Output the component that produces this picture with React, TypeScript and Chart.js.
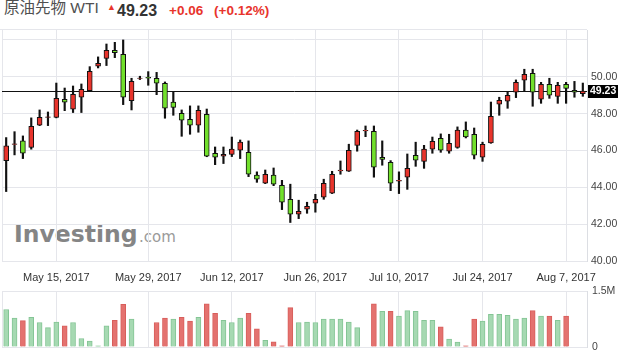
import React, { useEffect, useRef } from "react";
import { Chart, registerables } from "chart.js";

Chart.register(...registerables);

const FONT = '"Liberation Sans", Arial, Helvetica, sans-serif';

const DATES = [
  "May 5, 2017", "May 8, 2017", "May 9, 2017", "May 10, 2017", "May 11, 2017", "May 12, 2017",
  "May 15, 2017", "May 16, 2017", "May 17, 2017", "May 18, 2017", "May 19, 2017",
  "May 22, 2017", "May 23, 2017", "May 24, 2017", "May 25, 2017", "May 26, 2017", "May 28, 2017",
  "May 29, 2017", "May 30, 2017", "May 31, 2017", "Jun 1, 2017", "Jun 2, 2017",
  "Jun 5, 2017", "Jun 6, 2017", "Jun 7, 2017", "Jun 8, 2017", "Jun 9, 2017",
  "Jun 12, 2017", "Jun 13, 2017", "Jun 14, 2017", "Jun 15, 2017", "Jun 16, 2017",
  "Jun 19, 2017", "Jun 20, 2017", "Jun 21, 2017", "Jun 22, 2017", "Jun 23, 2017",
  "Jun 26, 2017", "Jun 27, 2017", "Jun 28, 2017", "Jun 29, 2017", "Jun 30, 2017",
  "Jul 3, 2017", "Jul 4, 2017", "Jul 5, 2017", "Jul 6, 2017", "Jul 7, 2017",
  "Jul 10, 2017", "Jul 11, 2017", "Jul 12, 2017", "Jul 13, 2017", "Jul 14, 2017",
  "Jul 17, 2017", "Jul 18, 2017", "Jul 19, 2017", "Jul 20, 2017", "Jul 21, 2017",
  "Jul 24, 2017", "Jul 25, 2017", "Jul 26, 2017", "Jul 27, 2017", "Jul 28, 2017",
  "Jul 31, 2017", "Aug 1, 2017", "Aug 2, 2017", "Aug 3, 2017", "Aug 4, 2017",
  "Aug 7, 2017", "Aug 8, 2017", "Aug 9, 2017",
];

const DATE_TICKS = [
  "May 15, 2017", "May 29, 2017", "Jun 12, 2017", "Jun 26, 2017",
  "Jul 10, 2017", "Jul 24, 2017", "Aug 7, 2017",
];

const OPEN = [
  45.45, 46.33, 46.52, 46.16, 47.37, 47.80, 47.80, 48.78, 48.24, 48.89,
  49.25, 50.57, 51.00, 51.44, 51.22, 48.71, 49.91, 49.97, 49.92, 49.65,
  48.63, 48.02, 47.69, 47.37, 47.96, 45.85, 45.69, 45.79, 46.01, 45.90,
  44.66, 44.22, 44.66, 44.11, 43.35, 42.54, 42.81, 43.14, 43.46, 43.68,
  44.89, 44.87, 46.28, 47.06, 47.04, 45.63, 45.36, 44.34, 44.55, 45.74,
  45.41, 46.07, 46.66, 45.96, 46.17, 47.11, 46.88, 45.63, 46.41, 48.51,
  48.67, 49.16, 49.81, 50.19, 48.78, 49.59, 48.94, 49.59, 49.27, 49.08,
];
const HIGH = [
  46.70, 47.02, 46.79, 47.77, 48.20, 48.09, 49.66, 49.39, 49.50, 49.61,
  50.55, 51.08, 51.78, 51.87, 52.00, 49.92, 50.03, 50.28, 50.24, 49.72,
  49.21, 48.20, 48.42, 48.42, 48.25, 46.19, 46.19, 46.73, 46.57, 46.52,
  44.84, 44.94, 45.05, 44.38, 44.17, 43.30, 43.19, 43.62, 44.44, 44.87,
  45.43, 46.34, 47.11, 47.33, 47.33, 46.52, 45.45, 44.84, 45.81, 46.45,
  46.28, 46.73, 46.90, 46.88, 47.28, 47.55, 47.22, 46.45, 48.63, 48.89,
  49.16, 49.83, 50.41, 50.41, 49.70, 49.92, 49.70, 49.70, 49.75, 49.66,
];
const LOW = [
  43.77, 45.76, 45.56, 46.07, 47.35, 47.35, 47.77, 48.16, 48.06, 48.06,
  49.21, 50.48, 50.61, 51.04, 48.49, 48.20, 49.85, 49.54, 49.03, 47.75,
  47.91, 46.77, 46.88, 46.99, 45.66, 45.23, 45.29, 45.67, 45.56, 44.58,
  44.27, 44.20, 44.09, 42.79, 42.09, 42.30, 42.59, 42.65, 43.35, 43.66,
  44.71, 44.86, 45.96, 46.75, 44.55, 45.20, 43.82, 43.66, 43.89, 45.14,
  45.03, 45.85, 45.90, 45.85, 46.12, 46.68, 45.54, 45.41, 46.39, 47.91,
  48.29, 48.87, 49.21, 48.40, 48.56, 48.83, 48.56, 48.56, 48.89, 48.94,
];
const CLOSE = [
  46.25, 46.36, 45.85, 47.31, 47.80, 47.83, 48.83, 48.62, 49.05, 49.32,
  50.30, 50.73, 51.44, 51.31, 48.89, 49.75, 49.93, 49.92, 49.65, 48.29,
  48.34, 47.64, 47.37, 48.18, 45.69, 45.63, 45.79, 46.07, 46.45, 44.71,
  44.44, 44.71, 44.17, 43.19, 42.54, 42.70, 42.97, 43.35, 44.22, 44.71,
  44.93, 46.01, 47.04, 47.10, 45.09, 45.52, 44.22, 44.38, 45.03, 45.47,
  46.07, 46.50, 46.01, 46.39, 47.11, 46.73, 45.74, 46.34, 47.86, 48.72,
  49.00, 49.70, 50.13, 49.16, 49.59, 49.00, 49.54, 49.37, 49.16, 49.23,
];

// volume in millions
const VOLUME = [
  1.01, 0.78, 0.71, 0.80, 0.66, 0.52, 0.67, 0.57, 0.66, 0.23,
  0.16, 0.03, 0.57, 0.72, 1.15, 0.75, null, null, 0.66, 0.78,
  0.75, 0.80, 0.70, 0.80, 1.16, 0.91, 0.72, 0.66, 0.78, 0.91,
  0.49, 0.18, 0.14, 0.03, 1.06, 0.66, 0.67, 0.66, 0.75, 0.75,
  0.75, 0.67, 0.52, null, 1.16, 0.96, 0.96, 0.83, 0.98, 0.96,
  0.72, 0.72, 0.54, 0.21, 0.13, 0.03, 0.75, 0.70, 0.88, 0.88,
  0.85, 0.75, 0.78, 0.98, 0.83, 0.83, 0.72, 0.83, null, null,
];
// 1 = up (red), 0 = down (green)
const VOL_UP = [
  0, 0, 1, 0, 0, 0, 0, 1, 0, 0,
  0, 0, 0, 1, 1, 0, 0, 0, 1, 1,
  0, 1, 1, 0, 1, 1, 0, 0, 0, 1,
  1, 0, 1, 1, 1, 0, 0, 0, 0, 0,
  0, 0, 0, 0, 1, 0, 1, 0, 0, 0,
  0, 0, 1, 0, 0, 1, 1, 0, 0, 0,
  0, 0, 0, 1, 0, 1, 0, 1, 0, 0,
];

const PRICE_GRID = [40, 42, 44, 46, 48, 50, 52];
const PRICE_LABELS = [40, 42, 44, 46, 48, 50];
const VOL_TICKS = [0, 1.5];
const VOL_TICK_LABELS = ["0", "1.5M"];
const LAST_PRICE = 49.23;
const CHANGE = "+0.06";
const CHANGE_PCT = "(+0.12%)";
const TITLE = "原油先物 WTI";

const RED = "#e8342c";
const GREEN = "#72e02c";
const GRID = "#e5e6eb";

const leftFrame = {
  id: "leftFrame",
  beforeDatasetsDraw(chart: any) {
    const { ctx, chartArea } = chart;
    ctx.save();
    ctx.strokeStyle = GRID;
    ctx.lineWidth = 1;
    ctx.beginPath();
    const x = Math.round(chartArea.left) + 0.5;
    ctx.moveTo(x, chartArea.top);
    ctx.lineTo(x, chartArea.bottom);
    ctx.stroke();
    ctx.restore();
  },
};

const lastLine = {
  id: "lastLine",
  beforeDatasetsDraw(chart: any) {
    const { ctx, chartArea, scales } = chart;
    const y = Math.round(scales.y.getPixelForValue(LAST_PRICE)) + 0.5;
    ctx.save();
    ctx.strokeStyle = "#111";
    ctx.lineWidth = 1;
    ctx.beginPath();
    ctx.moveTo(chartArea.left, y);
    ctx.lineTo(chartArea.right, y);
    ctx.stroke();
    ctx.restore();
  },
  afterDraw(chart: any) {
    const { ctx, chartArea, scales } = chart;
    const y = Math.round(scales.y.getPixelForValue(LAST_PRICE));
    ctx.save();
    ctx.fillStyle = "#000";
    ctx.fillRect(chartArea.right + 1, y - 6, 30, 13);
    ctx.fillStyle = "#fff";
    ctx.font = `bold 10.5px ${FONT}`;
    ctx.textBaseline = "middle";
    ctx.textAlign = "left";
    ctx.fillText(LAST_PRICE.toFixed(2), chartArea.right + 3, y + 0.5);
    ctx.restore();
  },
};

export default function App() {
  const priceRef = useRef<HTMLCanvasElement>(null);
  const volRef = useRef<HTMLCanvasElement>(null);

  useEffect(() => {
    const tickFont = { family: FONT, size: 10.5 };
    const bodyColors = OPEN.map((o, i) => (CLOSE[i] >= o ? RED : GREEN));
    const xTickFilter = (s: any) => {
      s.ticks = s.ticks.filter((t: any) => DATE_TICKS.includes(DATES[t.value]));
    };

    const pc = new Chart(priceRef.current as HTMLCanvasElement, {
      type: "bar",
      data: {
        labels: DATES,
        datasets: [
          {
            label: "wick",
            data: LOW.map((l, i) => [l, HIGH[i]]) as any,
            backgroundColor: "#111",
            borderWidth: 0,
            barThickness: 1.5,
            grouped: false,
            order: 2,
          } as any,
          {
            label: "body",
            data: OPEN.map((o, i) => [o, CLOSE[i]]) as any,
            backgroundColor: bodyColors,
            borderColor: "#111",
            borderWidth: 1,
            borderSkipped: false,
            barThickness: 5,
            grouped: false,
            order: 1,
          } as any,
        ],
      },
      options: {
        animation: false,
        responsive: false,
        maintainAspectRatio: false,
        layout: { padding: { top: 30, left: 2, right: 0, bottom: 0 } },
        plugins: { legend: { display: false }, tooltip: { enabled: false } },
        scales: {
          x: {
            offset: true,
            afterBuildTicks: xTickFilter,
            afterFit: (s: any) => { s.height = 28; },
            grid: { offset: false, color: GRID, drawTicks: false },
            border: { display: false },
            ticks: {
              autoSkip: false, maxRotation: 0, padding: 10, color: "#333",
              font: { family: FONT, size: 11 },
            },
          },
          y: {
            position: "right",
            min: 40,
            max: 52.54,
            afterBuildTicks: (s: any) => { s.ticks = PRICE_GRID.map((v) => ({ value: v })); },
            afterFit: (s: any) => { s.width = 37; },
            grid: { color: GRID, drawTicks: false },
            border: { display: true, color: "#dcdee3" },
            ticks: {
              padding: 4, color: "#444", font: tickFont,
              callback: (v: any) => (PRICE_LABELS.includes(v) ? Number(v).toFixed(2) : ""),
            },
          },
        },
      } as any,
      plugins: [leftFrame, lastLine],
    });

    const vc = new Chart(volRef.current as HTMLCanvasElement, {
      type: "bar",
      data: {
        labels: DATES,
        datasets: [
          {
            label: "volume",
            data: VOLUME as any,
            backgroundColor: VOL_UP.map((u) => (u ? "#e4726f" : "#a6d9b2")),
            borderColor: VOL_UP.map((u) => (u ? "#d85e5b" : "#84c595")),
            borderWidth: 1,
            barThickness: 5,
          } as any,
        ],
      },
      options: {
        animation: false,
        responsive: false,
        maintainAspectRatio: false,
        layout: { padding: { top: 9, left: 2, right: 0, bottom: 0 } },
        plugins: { legend: { display: false }, tooltip: { enabled: false } },
        scales: {
          x: {
            offset: true,
            afterBuildTicks: xTickFilter,
            afterFit: (s: any) => { s.height = 13; },
            grid: { offset: false, color: GRID, drawTicks: false },
            border: { display: false },
            ticks: { display: false },
          },
          y: {
            position: "right",
            min: 0,
            max: 1.5,
            afterBuildTicks: (s: any) => { s.ticks = VOL_TICKS.map((v) => ({ value: v })); },
            afterFit: (s: any) => { s.width = 37; },
            grid: { color: GRID, drawTicks: false },
            border: { display: true, color: "#dcdee3" },
            ticks: {
              padding: 5, color: "#444", font: tickFont,
              callback: (v: any) => VOL_TICK_LABELS[VOL_TICKS.indexOf(Number(v))] ?? "",
            },
          },
        },
      } as any,
      plugins: [leftFrame],
    });

    return () => {
      pc.destroy();
      vc.destroy();
    };
  }, []);

  const abs = (o: any) => ({ position: "absolute" as const, whiteSpace: "nowrap" as const, ...o });

  return (
    <div
      style={{
        position: "absolute", left: 0, top: 0, width: 624, height: 360,
        background: "#fff", overflow: "hidden", fontFamily: FONT,
      }}
    >
      <span style={abs({ left: 4, top: 0, fontSize: 15.5, lineHeight: "15.5px", color: "#505050",
        fontFamily: '"Liberation Sans", "Noto Sans CJK JP", sans-serif' })}>{TITLE}</span>
      <span style={abs({ left: 107, top: 3, fontSize: 9, lineHeight: "9px", color: RED })}>▲</span>
      <span style={abs({ left: 117, top: 2.5, fontSize: 16, lineHeight: "16px", fontWeight: "bold", color: "#333" })}>
        {LAST_PRICE.toFixed(2)}
      </span>
      <span style={abs({ left: 169, top: 3.9, fontSize: 13.5, lineHeight: "13.5px", fontWeight: "bold", color: RED })}>
        {CHANGE}
      </span>
      <span style={abs({ left: 214, top: 3.9, fontSize: 13.5, lineHeight: "13.5px", fontWeight: "bold", color: RED })}>
        {CHANGE_PCT}
      </span>
      <div style={abs({ left: 0, top: 29, width: 587, height: 1, background: GRID })} />
      <span style={abs({ left: 14, top: 222.5, fontSize: 23.5, lineHeight: "23.5px", fontWeight: "bold",
        color: "#858585", fontFamily: '"DejaVu Sans", sans-serif' })}>Investing</span>
      <span style={abs({ left: 139, top: 229.5, fontSize: 15, lineHeight: "15px",
        color: "#9a9a9a", fontFamily: '"DejaVu Sans", sans-serif' })}>.com</span>
      <canvas ref={priceRef} width={624} height={289} style={{ position: "absolute", left: 0, top: 0 }} />
      <canvas ref={volRef} width={624} height={80} style={{ position: "absolute", left: 0, top: 280 }} />
    </div>
  );
}
